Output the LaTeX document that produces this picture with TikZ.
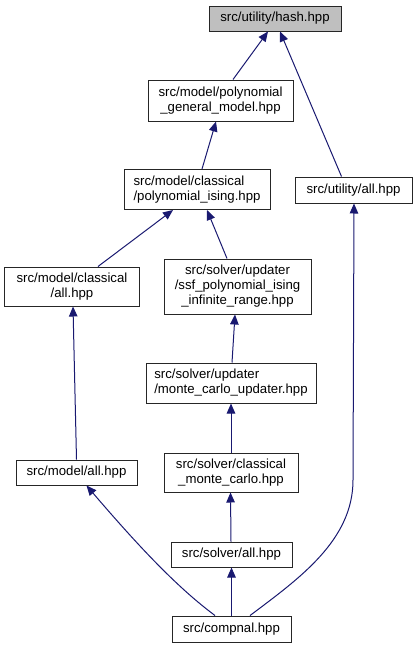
\documentclass[tikz,border=0pt]{standalone}
\usepackage{fontspec}
\setmainfont{Liberation Sans}
\usetikzlibrary{arrows.meta}
\definecolor{edgecol}{HTML}{191970}
\definecolor{boxline}{HTML}{262626}
\begin{document}
\begin{tikzpicture}[x=1pt,y=-1pt,
  filebox/.style={draw=boxline,line width=1pt,fill=white,inner sep=0pt,
    font=\fontsize{13.2}{15}\selectfont},
  dep/.style={draw=edgecol,line width=1pt,-{Triangle[length=10pt,width=8.5pt]}}]
\useasboundingbox (0,0) rectangle (418,648);
\node[filebox,fill={rgb,255:red,191;green,191;blue,191},minimum width=132,minimum height=25] (hash) at (275,18.5) {src/utility/hash.hpp};
\node[filebox,minimum width=145,minimum height=41,align=center] (pgm) at (220.5,100.5) {src/model/polynomial\\\_general\_model.hpp};
\node[filebox,minimum width=146,minimum height=40,align=left] (pising) at (197,189.5) {src/model/classical\\/polynomial\_ising.hpp};
\node[filebox,minimum width=117,minimum height=26] (uall) at (353.5,190) {src/utility/all.hpp};
\node[filebox,minimum width=135,minimum height=39,align=center] (call) at (72,286.5) {src/model/classical\\/all.hpp};
\node[filebox,minimum width=147,minimum height=55,align=center] (ssf) at (237.5,286.5) {src/solver/updater\\/ssf\_polynomial\_ising\\\_infinite\_range.hpp};
\node[filebox,minimum width=170,minimum height=40,align=left] (mcu) at (231,383) {src/solver/updater\\/monte\_carlo\_updater.hpp};
\node[filebox,minimum width=121,minimum height=25] (mall) at (76.5,472.5) {src/model/all.hpp};
\node[filebox,minimum width=134,minimum height=39,align=center] (cmc) at (231,472.5) {src/solver/classical\\\_monte\_carlo.hpp};
\node[filebox,minimum width=121,minimum height=25] (sall) at (231.5,554.5) {src/solver/all.hpp};
\node[filebox,minimum width=119,minimum height=26] (comp) at (231.5,629) {src/compnal.hpp};
% edges
\draw[dep] ([xshift=12.5]pgm.north) -- ([xshift=-7]hash.south);
\draw[dep] ([xshift=-12]uall.north) -- ([xshift=5]hash.south);
\draw[dep] ([xshift=5]pising.north) -- ([xshift=-4.5]pgm.south);
\draw[dep] ([xshift=26]call.north) -- ([xshift=-24]pising.south);
\draw[dep] ([xshift=-10.5]ssf.north) -- ([xshift=10]pising.south);
\draw[dep] (mall.north) -- ([xshift=1]call.south);
\draw[dep] ([xshift=1]mcu.north) -- ([xshift=-2.5]ssf.south);
\draw[dep] (cmc.north) -- (mcu.south);
\draw[dep] ([xshift=-0.5]sall.north) -- ([xshift=-0.5]cmc.south);
\draw[dep] (comp.north) -- (sall.south);
\draw[dep] ([xshift=-16.5]comp.north) .. controls (178,588) and (140,548) .. ([xshift=10]mall.south);
\draw[dep] ([xshift=18.5]comp.north) .. controls (300,578) and (353,540) .. (353,480) -- ([xshift=0.5]uall.south);
\end{tikzpicture}
\end{document}
